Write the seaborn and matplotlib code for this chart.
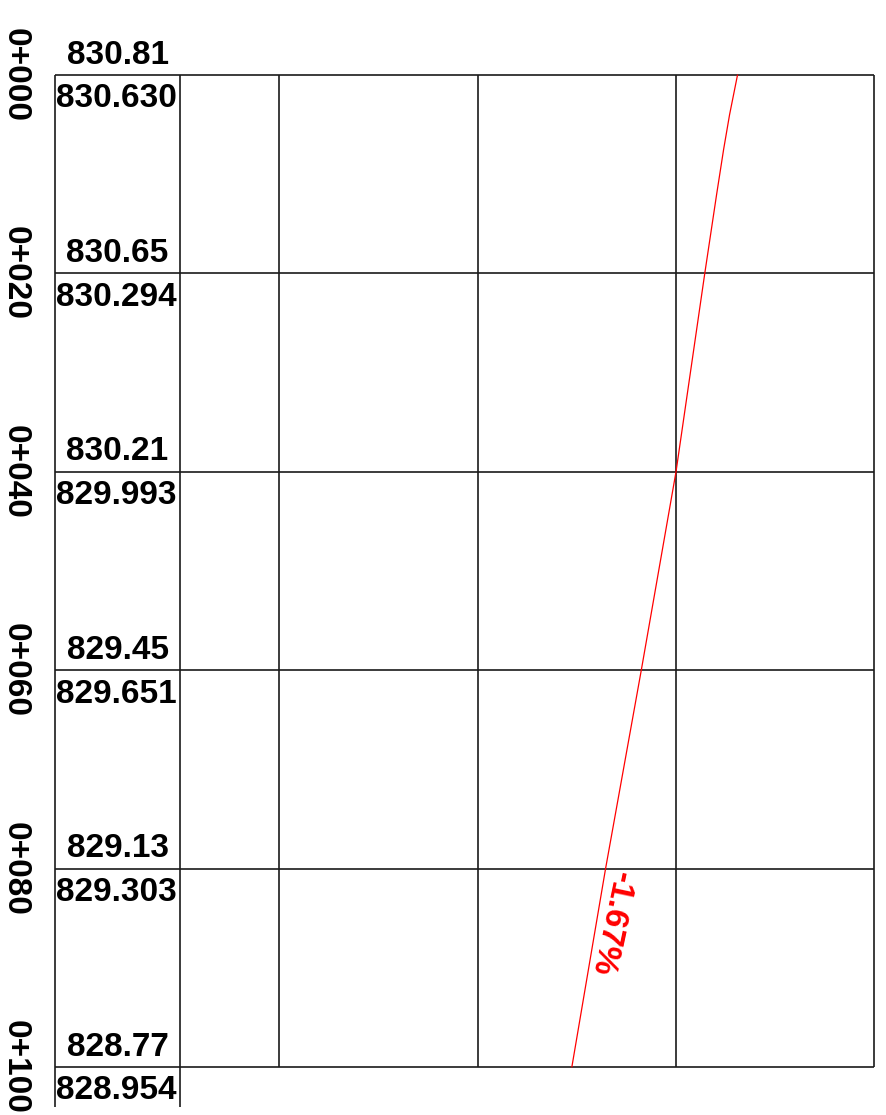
import matplotlib
matplotlib.use("Agg")
import matplotlib.pyplot as plt
import seaborn as sns
import pandas as pd

sns.set_theme(style="white")
plt.rcParams['font.family'] = ['Liberation Sans', 'DejaVu Sans']

# ---- data ----
stations = [0, 20, 40, 60, 80, 100]
station_labels = ["0+000", "0+020", "0+040", "0+060", "0+080", "0+100"]
upper_values = ["830.81", "830.65", "830.21", "829.45", "829.13", "828.77"]
lower_values = ["830.630", "830.294", "829.993", "829.651", "829.303", "828.954"]

line_station = [0, 4, 7.5, 12, 20, 40, 60, 80, 100]
line_offset = [56.2, 55.4, 54.8, 54.1, 52.9, 50.0, 46.5, 42.9, 39.5]
grade_label = "-1.67%"

grid_columns = [10, 30, 50, 70]
label_col_left = -12.6
label_col_right = 0

# ---- figure ----
fig = plt.figure(figsize=(8.86, 11.15), dpi=100)
ax = fig.add_axes([0, 0, 1, 1])
ax.axis("off")

lc = "#1a1a1a"
lw = 1.2
ax.hlines(stations, label_col_left, grid_columns[-1], colors=lc, linewidth=lw)
ax.vlines([label_col_left, label_col_right], stations[0], 104.0, colors=lc, linewidth=lw)
ax.vlines(grid_columns, stations[0], stations[-1], colors=lc, linewidth=lw)

df = pd.DataFrame({"offset": line_offset, "station": line_station})
sns.lineplot(data=df, x="offset", y="station", sort=False, color="red",
             linewidth=0.9, ax=ax, legend=False)
ax.set_xlabel("")
ax.set_ylabel("")
ax.set_xlim(-18.15, 71.17)
ax.set_ylim(104.84, -7.56)

fs = 24
for s, sl, up, lo in zip(stations, station_labels, upper_values, lower_values):
    ax.text(-16.6, s, sl, rotation=-90, ha="center", va="center",
            fontsize=fs, fontweight="bold", color="black")
    ax.text((label_col_left + label_col_right) / 2, s - 0.45, up, ha="center",
            va="bottom", fontsize=fs, fontweight="bold", color="black")
    ax.text(label_col_left + 0.05, s + 0.85, lo, ha="left", va="top",
            fontsize=fs, fontweight="bold", color="black")

ax.text(43.5, 85.5, grade_label, rotation=-102, rotation_mode="anchor",
        ha="center", va="center", fontsize=fs, fontweight="bold", color="red")

fig.savefig("out.png", dpi=100)
